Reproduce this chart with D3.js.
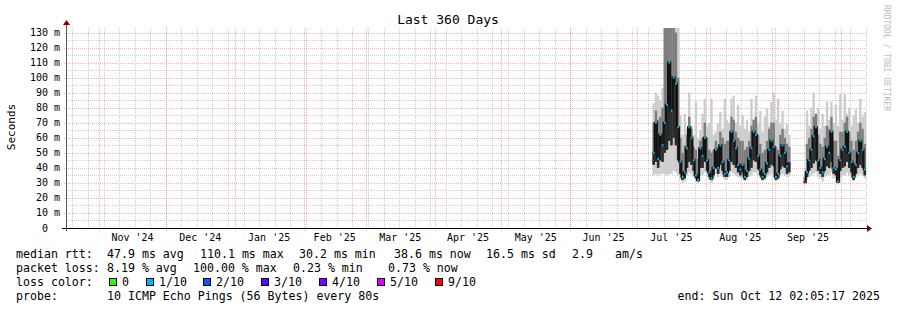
<!DOCTYPE html>
<meta charset="utf-8">
<head>
	<title>Last 360 Days</title>
	<script type="text/javascript" src="https://cdn.jsdelivr.net/npm/d3@7"></script>
	<style>
		body { margin: 0; background: #fff; }
		svg { display: block; }
		text { font-family: "DejaVu Sans Mono", monospace; fill: #000; }
		.tick-label { font-size: 10px; }
		.legend { font-size: 11.6px; white-space: pre; }
	</style>
</head>
<body>
	<div id="chart"></div>
	<script>
		// time window of the graph
		var startTime = new Date(Date.UTC(2024, 9, 17, 2, 5, 17));
		var endTime = new Date(Date.UTC(2025, 9, 12, 2, 5, 17));
		var firstDay = new Date(Date.UTC(2025, 6, 8));

		// daily values (ms), null = no data
		var medianRtt = [50, 70, 46, 62, 55, 70, 82, 110, 78, 100, 96, 67, 44, 34, 37, 53, 67, 60, 45, 35,
			32, 53, 48, 60, 45, 37, 33, 40, 52, 40, 55, 44, 36, 37, 45, 64, 58, 53, 42, 39,
			42, 34, 38, 46, 53, 64, 62, 48, 39, 34, 36, 43, 52, 58, 54, 34, 36, 48, 55, 50,
			41, 43, null, null, null, null, null, null, 30.5, 37, 45, 52, 61, 67, 45, 40, 37, 46, 54, 50,
			64, 40, 39, 31, 45, 52, 54, 64, 50, 44, 34, 42, 50, 58, 52, 39];
		var smokeMax = [83, 90, 88, 85, 93, 140, 140, 140, 140, 140, 140, 140, 75, 62, 76, 66, 90, 68, 62, 84,
			60, 65, 76, 86, 68, 70, 86, 62, 64, 70, 77, 66, 86, 72, 70, 86, 88, 70, 82, 68,
			75, 66, 72, 64, 86, 72, 88, 70, 78, 64, 74, 80, 68, 84, 90, 72, 86, 70, 78, 66,
			69, 62, null, null, null, null, null, null, 40, 78, 68, 80, 90, 74, 80, 66, 76, 68, 84, 72,
			84, 70, 82, 68, 89, 72, 89, 76, 80, 68, 75, 79, 70, 86, 74, 77];
		var smokeUpper = [70, 78, 72, 74, 80, 140, 140, 140, 140, 140, 130, 100, 60, 50, 55, 62, 74, 66, 54, 52,
			46, 58, 60, 70, 60, 52, 50, 52, 58, 54, 64, 60, 56, 58, 58, 74, 72, 64, 60, 58,
			58, 52, 54, 58, 68, 72, 74, 62, 56, 50, 52, 58, 66, 70, 70, 54, 52, 62, 66, 60,
			56, 54, null, null, null, null, null, null, 34, 56, 60, 66, 74, 76, 62, 56, 54, 60, 68, 66,
			74, 58, 58, 48, 64, 64, 70, 74, 64, 58, 52, 58, 64, 70, 66, 56];
		var smokeLower = [42, 44, 40, 45, 44, 50, 52, 58, 55, 60, 55, 45, 36, 32, 33, 40, 44, 42, 38, 33,
			31, 40, 40, 44, 38, 34, 32, 35, 40, 36, 42, 38, 34, 34, 38, 44, 42, 40, 37, 35,
			37, 32, 34, 38, 40, 45, 44, 39, 35, 32, 33, 37, 40, 42, 41, 32, 33, 39, 41, 40,
			36, 37, null, null, null, null, null, null, 30, 34, 38, 40, 43, 45, 38, 36, 34, 38, 41, 40,
			44, 36, 35, 30, 38, 40, 41, 44, 40, 37, 32, 36, 40, 42, 40, 35];
		var smokeMin = [35, 36, 35, 36, 36, 36, 35, 36, 36, 38, 37, 35, 32, 30, 31, 35, 37, 36, 34, 31,
			30, 35, 35, 37, 34, 32, 30, 33, 36, 34, 36, 34, 32, 32, 34, 37, 36, 35, 34, 33,
			34, 31, 32, 34, 35, 37, 37, 35, 33, 31, 32, 34, 35, 36, 35, 31, 32, 35, 36, 35,
			34, 35, null, null, null, null, null, null, 30, 32, 34, 35, 36, 37, 34, 33, 31, 34, 35, 35,
			37, 33, 33, 29, 34, 35, 35, 37, 35, 34, 31, 34, 35, 36, 35, 33];
		// lost pings out of 10 per day
		var lossCount = [1, 1, 1, 1, 1, 1, 1, 1, 1, 1, 1, 1, 1, 1, 1, 1, 1, 1, 1, 1,
			1, 1, 1, 1, 1, 1, 1, 1, 1, 1, 1, 1, 1, 1, 1, 1, 1, 1, 1, 1,
			1, 1, 1, 1, 1, 1, 1, 1, 1, 1, 1, 1, 1, 1, 1, 1, 1, 1, 1, 1,
			1, 3, null, null, null, null, null, null, 9, 1, 1, 1, 1, 1, 1, 1, 1, 1, 1, 1,
			1, 1, 1, 1, 1, 1, 1, 1, 1, 1, 1, 1, 1, 1, 1, 1];

		var yTicks = [0, 10, 20, 30, 40, 50, 60, 70, 80, 90, 100, 110, 120, 130];
		var lossLabels = ["0", "1/10", "2/10", "3/10", "4/10", "5/10", "9/10"];
		var lossColors = ["#26ff00", "#00b8ff", "#0059ff", "#5e00ff", "#7e00ff", "#dd00ff", "#ff0000"];
		var lossBuckets = [0, 1, 2, 3, 4, 5, 9];
		var lossSwatchX = [109, 146, 203, 261, 319, 377, 435];

		var width = 897, height = 310;
		var plotL = 66, plotR = 866, plotT = 28, plotB = 228;

		var svg = d3.select("#chart").append("svg")
			.attr("width", width).attr("height", height);

		var x = d3.scaleTime().domain([startTime, endTime]).range([plotL, plotR]);
		var y = d3.scaleLinear().domain([0, 133]).range([plotB, plotT]);

		var minorColor = "rgba(140,140,140,0.42)";
		var majorColor = "rgba(235,90,90,0.45)";

		// grid
		var grid = svg.append("g").attr("shape-rendering", "crispEdges");
		var minorY = d3.range(5, 135, 10);
		grid.selectAll(".hmin").data(minorY).enter().append("line")
			.attr("x1", plotL).attr("x2", plotR)
			.attr("y1", function (d) { return Math.round(y(d)) + 0.5; })
			.attr("y2", function (d) { return Math.round(y(d)) + 0.5; })
			.style("stroke", minorColor).style("stroke-dasharray", "1,1");
		var weeks = d3.utcSunday.range(startTime, endTime);
		grid.selectAll(".vmin").data(weeks).enter().append("line")
			.attr("x1", function (d) { return Math.round(x(d)) + 0.5; })
			.attr("x2", function (d) { return Math.round(x(d)) + 0.5; })
			.attr("y1", plotT).attr("y2", plotB + 2)
			.style("stroke", minorColor).style("stroke-dasharray", "1,1");
		grid.selectAll(".hmaj").data(yTicks.slice(1)).enter().append("line")
			.attr("x1", plotL - 2).attr("x2", plotR)
			.attr("y1", function (d) { return Math.round(y(d)) + 0.5; })
			.attr("y2", function (d) { return Math.round(y(d)) + 0.5; })
			.style("stroke", majorColor).style("stroke-dasharray", "1,1");
		var months = d3.utcMonth.range(d3.utcMonth.ceil(startTime), endTime);
		grid.selectAll(".vmaj").data(months).enter().append("line")
			.attr("x1", function (d) { return Math.round(x(d)) + 0.5; })
			.attr("x2", function (d) { return Math.round(x(d)) + 0.5; })
			.attr("y1", plotT).attr("y2", plotB + 3)
			.style("stroke", majorColor).style("stroke-dasharray", "1,1");

		// smoke
		var days = medianRtt.map(function (m, i) {
			return {
				t0: d3.utcDay.offset(firstDay, i), t1: d3.utcDay.offset(firstDay, i + 1),
				med: m, max: smokeMax[i], up: smokeUpper[i], low: smokeLower[i], min: smokeMin[i], loss: lossCount[i]
			};
		}).filter(function (d) { return d.med !== null; });

		svg.append("clipPath").attr("id", "plot")
			.append("rect").attr("x", plotL).attr("y", plotT).attr("width", plotR - plotL).attr("height", plotB - plotT);
		var plot = svg.append("g").attr("clip-path", "url(#plot)");

		function band(cls, lo, hi, color) {
			plot.selectAll("." + cls).data(days).enter().append("rect")
				.attr("x", function (d) { return x(d.t0); })
				.attr("width", function (d) { return x(d.t1) - x(d.t0) + 0.2; })
				.attr("y", function (d) { return y(d[hi]); })
				.attr("height", function (d) { return Math.max(0, y(d[lo]) - y(d[hi])); })
				.style("fill", color);
		}
		band("s1", "min", "max", "#cdcdcd");
		band("s2", "low", "up", "#7d7d7d");
		band("s3", "low", "med", "#2a2a2a");

		// median line
		var segs = [];
		var cur = [];
		medianRtt.forEach(function (m, i) {
			if (m === null) { if (cur.length) segs.push(cur); cur = []; return; }
			cur.push({ t: d3.utcDay.offset(firstDay, i), v: m });
		});
		if (cur.length) segs.push(cur);
		segs.forEach(function (s) {
			s.push({ t: d3.utcDay.offset(s[s.length - 1].t, 1), v: s[s.length - 1].v });
		});
		var line = d3.line()
			.x(function (d) { return x(d.t); })
			.y(function (d) { return y(d.v); })
			.curve(d3.curveStepAfter);
		plot.selectAll(".med").data(segs).enter().append("path")
			.attr("d", line)
			.style("fill", "none").style("stroke", "#111").style("stroke-width", 2);

		plot.selectAll(".lossdot").data(days).enter().append("rect")
			.attr("x", function (d) { return x(d.t0) + 0.3; })
			.attr("width", function (d) { return x(d.t1) - x(d.t0) - 0.3; })
			.attr("y", function (d) { return y(d.med) - 1; })
			.attr("height", 2)
			.style("fill", function (d) { return lossColors[lossBuckets.indexOf(d.loss)]; });

		// axes
		var axes = svg.append("g").attr("shape-rendering", "crispEdges");
		axes.append("line").attr("x1", plotL - 4).attr("x2", plotR + 2)
			.attr("y1", plotB + 0.5).attr("y2", plotB + 0.5).style("stroke", "#000");
		axes.append("line").attr("x1", plotL + 0.5).attr("x2", plotL + 0.5)
			.attr("y1", plotB + 3).attr("y2", plotT - 4).style("stroke", "#555");
		svg.append("path")
			.attr("d", "M" + (plotR + 1) + "," + (plotB - 3) + "L" + (plotR + 6) + "," + (plotB + 0.5) + "L" + (plotR + 1) + "," + (plotB + 4) + "Z")
			.style("fill", "#7f0000");
		svg.append("path")
			.attr("d", "M" + (plotL - 3) + "," + (plotT - 3) + "L" + (plotL + 0.5) + "," + (plotT - 8) + "L" + (plotL + 4) + "," + (plotT - 3) + "Z")
			.style("fill", "#7f0000");

		// y labels ("0" sits in the digit column, without unit)
		svg.selectAll(".ylab").data(yTicks).enter().append("text")
			.attr("class", "tick-label")
			.attr("x", function (d) { return d === 0 ? 48 : 60; })
			.attr("y", function (d) { return y(d) + 3.5; })
			.attr("text-anchor", "end")
			.text(function (d) { return d === 0 ? "0" : d + " m"; });

		// x labels, centred on the month
		var monthLabels = months.filter(function (m) {
			var mid = new Date((+m + +d3.utcMonth.offset(m, 1)) / 2);
			return mid < endTime;
		});
		var fmt = d3.utcFormat("%b '%y");
		svg.selectAll(".xlab").data(monthLabels).enter().append("text")
			.attr("class", "tick-label")
			.attr("x", function (m) { return x(new Date((+m + +d3.utcMonth.offset(m, 1)) / 2)); })
			.attr("y", 241)
			.attr("text-anchor", "middle")
			.text(function (m) { return fmt(m); });

		// title and side texts
		svg.append("text").attr("x", 448).attr("y", 24).attr("text-anchor", "middle")
			.style("font-size", "13px").text("Last 360 Days");
		svg.append("text").attr("transform", "translate(15,127) rotate(-90)")
			.attr("text-anchor", "middle").style("font-size", "11px").text("Seconds");
		svg.append("text").attr("transform", "translate(884,5) rotate(90)")
			.attr("text-anchor", "start").style("font-size", "8px").style("fill", "#bbb")
			.text("RRDTOOL / TOBI OETIKER");

		// legend
		var legendRows = [
			[[16, "median rtt:"], [107, "47.9 ms avg"], [200, "110.1 ms max"], [299, "30.2 ms min"], [394, "38.6 ms now"], [486, "16.5 ms sd"], [572, "2.9"], [615, "am/s"]],
			[[16, "packet loss:"], [107, "8.19 % avg"], [193, "100.00 % max"], [293, "0.23 % min"], [388, "0.73 % now"]],
			[[16, "loss color:"]],
			[[16, "probe:"], [107, "10 ICMP Echo Pings (56 Bytes) every 80s"]]
		];
		legendRows.forEach(function (row, r) {
			row.forEach(function (item) {
				svg.append("text").attr("class", "legend")
					.attr("x", item[0]).attr("y", 258 + r * 14).text(item[1]);
			});
		});
		svg.selectAll(".swatch").data(lossLabels).enter().append("rect")
			.attr("x", function (d, i) { return lossSwatchX[i] + 0.5; })
			.attr("y", 278.5).attr("width", 7).attr("height", 7)
			.style("fill", function (d, i) { return lossColors[i]; })
			.style("stroke", "#000").style("stroke-width", 1);
		svg.selectAll(".swlab").data(lossLabels).enter().append("text")
			.attr("class", "legend")
			.attr("x", function (d, i) { return lossSwatchX[i] + 13; })
			.attr("y", 286).text(function (d) { return d; });
		svg.append("text").attr("class", "legend").attr("x", 880).attr("y", 300)
			.attr("text-anchor", "end").text("end: Sun Oct 12 02:05:17 2025");
	</script>
</body>
</html>
